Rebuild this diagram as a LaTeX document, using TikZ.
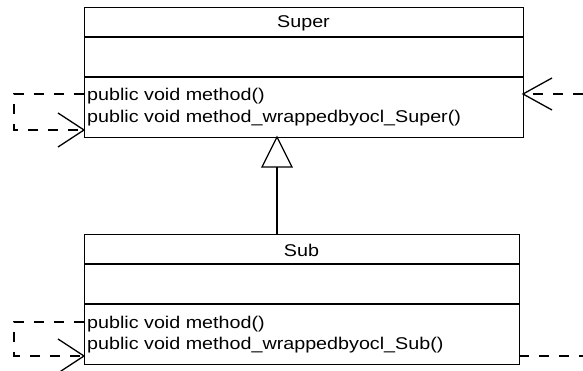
\documentclass[tikz,border=0pt]{standalone}
\usepackage{fontspec}
\setmainfont[FakeStretch=1.16]{Liberation Sans}
\begin{document}
\begin{tikzpicture}[x=1pt,y=-1pt,
  classbox/.style={draw, line width=1.3pt, rectangle, inner sep=0pt, anchor=north west},
  sep/.style={line width=1.3pt},
  txt/.style={anchor=base west, inner sep=0pt, font=\fontsize{17}{20}\selectfont},
  ctxt/.style={anchor=base, inner sep=0pt, font=\fontsize{17}{20}\selectfont},
  dep/.style={line width=1.3pt, dash pattern=on 10pt off 10pt},
  openhead/.style={line width=1.3pt},
  gen/.style={line width=1.3pt}]
\useasboundingbox (0,0) rectangle (583,371);
% Super class
\node[classbox, minimum width=439pt, minimum height=130pt] (super) at (84,7) {};
\draw[sep] (84,37) -- (523,37);
\draw[sep] (84,77) -- (523,77);
\node[ctxt] (supername) at (303.5,28) {Super};
\node[txt] (supm1) at (87,101) {public void method()};
\node[txt] (supm2) at (87,122.5) {public void method\_wrappedbyocl\_Super()};
% Sub class
\node[classbox, minimum width=435pt, minimum height=130pt] (sub) at (84,234) {};
\draw[sep] (84,264) -- (519,264);
\draw[sep] (84,304) -- (519,304);
\node[ctxt] (subname) at (301.5,256) {Sub};
\node[txt] (subm1) at (87,328) {public void method()};
\node[txt] (subm2) at (87,349.5) {public void method\_wrappedbyocl\_Sub()};
% generalization
\coordinate (gtip) at (277,137);
\coordinate (gbase) at (277,167);
\coordinate (gfoot) at (277,234);
\draw[gen] (gfoot) -- (gbase);
\draw[gen] (gtip) -- (262,167) -- (292,167) -- cycle;
% Super self loop
\coordinate (sl1) at (84,94);
\coordinate (sl2) at (84,130);
\draw[dep] (sl1) -- (14,94) -- (14,130) -- (sl2);
\draw[openhead] (58,113) -- (sl2) -- (58,147);
% right incoming to Super
\coordinate (rin) at (523,94);
\coordinate (rend) at (583,94);
\draw[dep] (rend) -- (rin);
\draw[openhead] (552,78) -- (rin) -- (552,110);
% Sub self loop
\coordinate (bl1) at (84,322);
\coordinate (bl2) at (84,356);
\draw[dep] (bl1) -- (14,322) -- (14,356) -- (bl2);
\draw[openhead] (58,339) -- (bl2) -- (58,373);
% right outgoing from Sub
\coordinate (rout) at (519,356);
\coordinate (routend) at (583,356);
\draw[dep] (rout) -- (routend);
\end{tikzpicture}
\end{document}
